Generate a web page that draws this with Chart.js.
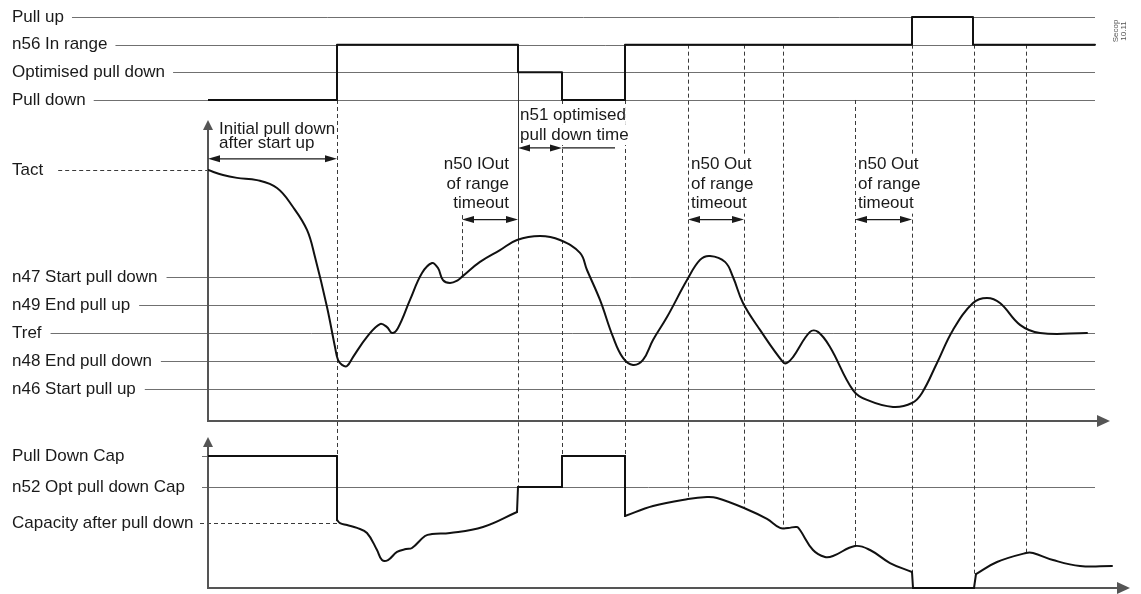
<!DOCTYPE html>
<html><head><meta charset="utf-8">
<script src="https://cdn.jsdelivr.net/npm/chart.js@4.4.1/dist/chart.umd.min.js"></script>
<style>html,body{margin:0;padding:0;background:#fff;}canvas{display:block;}</style>
</head><body>
<canvas id="c" width="1141" height="594"></canvas>
<script>
// ================= DATA =================
// Top panel: controller state (0 = Pull down, 1 = Optimised pull down, 2 = n56 In range, 3 = Pull up)
const signalLevelLabels = ['Pull down', 'Optimised pull down', 'n56 In range', 'Pull up'];
const signalTime  = [0, 129, 310, 354, 417, 704, 765, 887];
const signalLevel = [0, 2, 1, 0, 2, 3, 2, 2];

// Middle panel: temperature (Tref = 0, one unit per limit step)
const tempLevelLabels = ['Tact', 'n47 Start pull down', 'n49 End pull up', 'Tref', 'n48 End pull down', 'n46 Start pull up'];
const tempLevelValues = [5.82, 2, 1, 0, -1, -2];
const tempTime  = [0, 15, 29, 49, 69, 85, 99, 107, 119, 127, 130, 134, 139, 145, 159, 172, 179, 184, 190, 202,
                   214, 224, 230, 235, 242, 250, 255, 272, 292, 309, 332, 352, 372, 379, 392, 405, 415, 425, 435, 445,
                   459, 479, 492, 502, 517, 525, 535, 552, 575, 579, 585, 602, 610, 622, 645, 659, 685, 704, 714, 729,
                   745, 765, 779, 792, 812, 832, 879];
const tempValue = [5.82, 5.64, 5.54, 5.46, 5.18, 4.5, 3.68, 2.71, 0.93, -0.5, -0.96, -1.14, -1.18, -0.86, -0.14, 0.32, 0.21, 0, 0.18, 1.18,
                   2.14, 2.5, 2.32, 1.89, 1.79, 1.89, 2.04, 2.54, 2.96, 3.32, 3.46, 3.32, 2.86, 2.25, 1.18, -0.14, -0.89, -1.14, -0.96, -0.25,
                   0.57, 1.89, 2.61, 2.75, 2.54, 2.0, 1.07, 0.11, -1.04, -1.07, -0.86, 0.04, 0.04, -0.5, -2.04, -2.39, -2.64, -2.5, -2.14, -1.07,
                   0.11, 1.07, 1.25, 1.07, 0.29, 0, 0];

// Bottom panel: compressor capacity (%)
const capLevelLabels = ['Pull Down Cap', 'n52 Opt pull down Cap', 'Capacity after pull down'];
const capLevelValues = [100, 76.5, 49.2];
const capTime  = [0, 129, 129, 132, 139, 149, 159, 169, 174, 180, 189, 198, 204, 217, 224, 242, 275, 309, 310, 354,
                  354, 417, 417, 445, 480, 499, 509, 536, 559, 572, 580, 589, 592, 605, 617, 625, 647, 662, 682, 704,
                  705, 766, 768, 789, 818, 825, 845, 872, 904];
const capValue = [100, 100, 51.5, 49.2, 47.7, 45.5, 41.7, 28.8, 21.2, 21.2, 27.3, 29.5, 30.3, 39.4, 40.9, 41.7, 46.2, 57.6, 76.5, 76.5,
                  100, 100, 54.5, 62.1, 67.4, 68.9, 68.2, 60.6, 52.3, 45.5, 45.5, 46.2, 43.9, 28.8, 23.5, 24.2, 31.8, 28.8, 18.9, 12.1,
                  0, 0, 10.6, 19.7, 26.5, 26.5, 21.2, 16.7, 16.7];

// Event markers (dashed verticals): time, state level where they start, capacity where they end
const eventTime      = [129, 310, 354, 417, 480, 536, 575, 647, 704, 766, 818];
const eventTopLevel  = [0, 1, 0, 0, 2, 2, 2, 0, 2, 2, 2];
const eventBottomCap = [100, 76.5, 100, 100, 67.4, 60.6, 45.5, 31.8, 12.1, 10.6, 26.5];

// Annotations
const timeoutText  = [['n50 IOut', 'of range', 'timeout'], ['n50 Out', 'of range', 'timeout'], ['n50 Out', 'of range', 'timeout']];
const timeoutStart = [254, 480, 647];
const timeoutEnd   = [310, 536, 704];
const initialText  = ['Initial pull down', 'after start up'];
const initialEnd   = 129;
const optimisedText = ['n51 optimised', 'pull down time'];
const optimisedStart = 310, optimisedEnd = 354, optimisedTail = 407;

// ================= DRAWING =================
const FONT = '17px "Liberation Sans", Arial, sans-serif';
const INK = '#1a1a1a', GRID = '#707070', AXIS = '#555555', DASH = '#3a3a3a';

function head(ctx, x, y, dir, len, half) {
  ctx.beginPath();
  if (dir === 'left')  { ctx.moveTo(x, y); ctx.lineTo(x + len, y - half); ctx.lineTo(x + len, y + half); }
  if (dir === 'right') { ctx.moveTo(x, y); ctx.lineTo(x - len, y - half); ctx.lineTo(x - len, y + half); }
  if (dir === 'up')    { ctx.moveTo(x, y); ctx.lineTo(x - half, y + len); ctx.lineTo(x + half, y + len); }
  ctx.closePath(); ctx.fill();
}
function dimension(ctx, x1, x2, y) {
  ctx.strokeStyle = INK; ctx.fillStyle = INK; ctx.lineWidth = 1.3; ctx.setLineDash([]);
  ctx.beginPath(); ctx.moveTo(x1 + 4, y); ctx.lineTo(x2 - 4, y); ctx.stroke();
  head(ctx, x1, y, 'left', 12, 3.5);
  head(ctx, x2, y, 'right', 12, 3.5);
}
function textBlock(ctx, lines, x, ys, align) {
  ctx.font = FONT; ctx.textAlign = align; ctx.textBaseline = 'middle';
  lines.forEach((s, i) => {
    const w = ctx.measureText(s).width;
    const left = align === 'right' ? x - w : x;
    ctx.fillStyle = '#fff'; ctx.fillRect(left, ys[i] - 10, w, 20);
  });
  lines.forEach((s, i) => { ctx.fillStyle = INK; ctx.fillText(s, x, ys[i]); });
}

const diagram = {
  id: 'diagram',
  beforeDatasetsDraw(chart) {
    const { ctx, scales: { x, yS, yT, yC } } = chart;
    const X = v => x.getPixelForValue(v);
    const x0 = X(0), gridEnd = X(887);
    ctx.save();
    ctx.font = FONT; ctx.textBaseline = 'middle'; ctx.textAlign = 'left';

    const row = (label, py, lineStart, lineEnd, dashed) => {
      ctx.fillStyle = INK; ctx.fillText(label, 12, py);
      ctx.strokeStyle = dashed ? DASH : GRID; ctx.lineWidth = 1;
      ctx.setLineDash(dashed ? [4, 3] : []);
      ctx.beginPath(); ctx.moveTo(lineStart, Math.round(py) + 0.5); ctx.lineTo(lineEnd, Math.round(py) + 0.5); ctx.stroke();
    };
    signalLevelLabels.forEach((s, i) => {
      row(s, yS.getPixelForValue(i), 12 + ctx.measureText(s).width + 8, gridEnd, false);
    });
    tempLevelLabels.forEach((s, i) => {
      const w = ctx.measureText(s).width;
      if (i === 0) row(s, yT.getPixelForValue(tempLevelValues[i]), 12 + w + 15, x0, true);
      else row(s, yT.getPixelForValue(tempLevelValues[i]), 12 + w + 9, gridEnd, false);
    });
    row(capLevelLabels[0], yC.getPixelForValue(capLevelValues[0]), x0 - 6, x0, false);
    row(capLevelLabels[1], yC.getPixelForValue(capLevelValues[1]), x0 - 6, gridEnd, false);
    row(capLevelLabels[2], yC.getPixelForValue(capLevelValues[2]), x0 - 8, X(initialEnd), true);

    // event markers
    ctx.strokeStyle = DASH; ctx.lineWidth = 1; ctx.setLineDash([4, 3]);
    eventTime.forEach((t, i) => {
      const px = Math.round(X(t)) + 0.5;
      ctx.beginPath();
      ctx.moveTo(px, yS.getPixelForValue(eventTopLevel[i]));
      ctx.lineTo(px, yC.getPixelForValue(eventBottomCap[i]));
      ctx.stroke();
    });
    {
      const px = Math.round(X(timeoutStart[0])) + 0.5;
      ctx.beginPath(); ctx.moveTo(px, yT.getPixelForValue(4.21)); ctx.lineTo(px, yT.getPixelForValue(2.04)); ctx.stroke();
    }
    ctx.setLineDash([]); ctx.strokeStyle = '#333';
    {
      const px = Math.round(X(optimisedStart)) + 0.5;
      ctx.beginPath(); ctx.moveTo(px, yS.getPixelForValue(1)); ctx.lineTo(px, yT.getPixelForValue(3.32)); ctx.stroke();
    }

    // axes
    ctx.strokeStyle = AXIS; ctx.fillStyle = AXIS; ctx.lineWidth = 2; ctx.setLineDash([]);
    const tAxisY = yT.getPixelForValue(-3.143), cAxisY = yC.getPixelForValue(0);
    ctx.beginPath(); ctx.moveTo(x0, yT.getPixelForValue(7.3)); ctx.lineTo(x0, tAxisY); ctx.lineTo(X(892), tAxisY); ctx.stroke();
    head(ctx, x0, yT.getPixelForValue(7.61), 'up', 10, 5);
    head(ctx, X(902), tAxisY, 'right', 13, 6);
    ctx.beginPath(); ctx.moveTo(x0, yC.getPixelForValue(108)); ctx.lineTo(x0, cAxisY); ctx.lineTo(X(912), cAxisY); ctx.stroke();
    head(ctx, x0, yC.getPixelForValue(114.4), 'up', 10, 5);
    head(ctx, X(922), cAxisY, 'right', 13, 6);

    // annotations
    const T = v => yT.getPixelForValue(v);
    textBlock(ctx, initialText, X(11), [T(7.27), T(6.78)], 'left');
    dimension(ctx, x0, X(initialEnd), T(6.22));

    textBlock(ctx, optimisedText, X(312), [T(7.79), T(7.07)], 'left');
    dimension(ctx, X(optimisedStart), X(optimisedEnd), T(6.61));
    ctx.strokeStyle = INK; ctx.lineWidth = 1.2;
    ctx.beginPath(); ctx.moveTo(X(optimisedEnd), T(6.61)); ctx.lineTo(X(optimisedTail), T(6.61)); ctx.stroke();

    timeoutText.forEach((lines, i) => {
      const ys = [T(6.02), T(5.32), T(4.62)];
      if (i === 0) textBlock(ctx, lines, X(timeoutEnd[0]) - 9, ys, 'right');
      else textBlock(ctx, lines, X(timeoutStart[i]) + 3, ys, 'left');
      dimension(ctx, X(timeoutStart[i]), X(timeoutEnd[i]), T(4.05));
    });

    // document tag
    ctx.save();
    ctx.translate(1116, 31); ctx.rotate(-Math.PI / 2);
    ctx.font = '8px "Liberation Sans", Arial, sans-serif'; ctx.fillStyle = '#555';
    ctx.textAlign = 'center'; ctx.textBaseline = 'middle';
    ctx.fillText('Secop', 0, 0); ctx.fillText('10.11', 0, 8);
    ctx.restore();

    ctx.restore();
  }
};

const pts = (xs, ys) => xs.map((v, i) => ({ x: v, y: ys[i] }));
const lineStyle = { borderColor: '#111', borderWidth: 2, pointRadius: 0, fill: false, borderCapStyle: 'round', borderJoinStyle: 'round' };

// capacity: smooth runs between the vertical steps, steps drawn straight
const capDatasets = [];
{
  let run = [0];
  for (let i = 1; i < capTime.length; i++) {
    if (capTime[i] - capTime[i - 1] <= 2) {
      capDatasets.push({ ...lineStyle, yAxisID: 'yC', tension: 0.4, data: run.map(j => ({ x: capTime[j], y: capValue[j] })) });
      capDatasets.push({ ...lineStyle, yAxisID: 'yC', tension: 0, data: [{ x: capTime[i - 1], y: capValue[i - 1] }, { x: capTime[i], y: capValue[i] }] });
      run = [i];
    } else run.push(i);
  }
  capDatasets.push({ ...lineStyle, yAxisID: 'yC', tension: 0.4, data: run.map(j => ({ x: capTime[j], y: capValue[j] })) });
}

new Chart(document.getElementById('c'), {
  type: 'line',
  data: {
    datasets: [
      { ...lineStyle, data: pts(signalTime, signalLevel), yAxisID: 'yS', stepped: 'before' },
      { ...lineStyle, data: pts(tempTime, tempValue), yAxisID: 'yT', tension: 0.4 },
      ...capDatasets
    ]
  },
  options: {
    responsive: false, animation: false, devicePixelRatio: 1,
    layout: { padding: { left: 208, right: 11, top: 10, bottom: 4 } },
    plugins: { legend: { display: false }, tooltip: { enabled: false } },
    events: [],
    scales: {
      x:  { type: 'linear', min: 0, max: 922, display: false },
      yS: { type: 'linear', min: -17.711, max: 3.253, display: false },
      yT: { type: 'linear', min: -9.179, max: 11.536, display: false },
      yC: { type: 'linear', min: -1.515, max: 437.88, display: false }
    }
  },
  plugins: [diagram]
});
</script>
</body></html>
